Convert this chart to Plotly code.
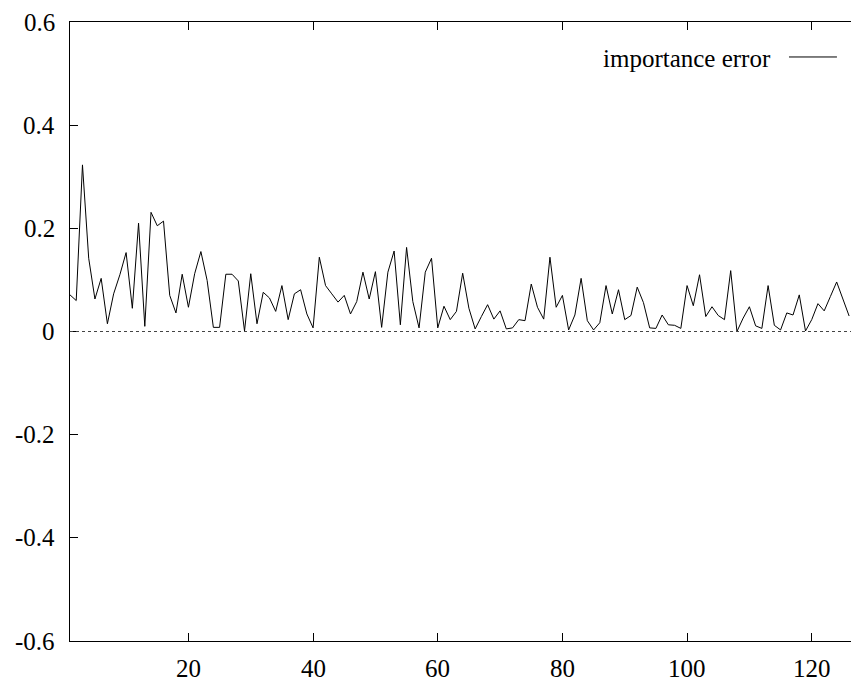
import plotly.graph_objects as go

x_index = list(range(1, 127))
importance_error = [
    0.071, 0.060, 0.323, 0.142, 0.063, 0.103, 0.015, 0.073, 0.110, 0.153,
    0.045, 0.210, 0.010, 0.231, 0.205, 0.214, 0.070, 0.036, 0.111, 0.047,
    0.112, 0.155, 0.099, 0.008, 0.008, 0.111, 0.111, 0.098, 0.001, 0.112,
    0.015, 0.076, 0.065, 0.039, 0.089, 0.023, 0.073, 0.081, 0.034, 0.007,
    0.144, 0.089, 0.073, 0.057, 0.070, 0.034, 0.058, 0.115, 0.063, 0.116,
    0.008, 0.115, 0.156, 0.013, 0.163, 0.058, 0.007, 0.115, 0.142, 0.007,
    0.049, 0.023, 0.039, 0.113, 0.045, 0.005, 0.029, 0.052, 0.024, 0.040,
    0.005, 0.007, 0.023, 0.021, 0.092, 0.047, 0.024, 0.144, 0.047, 0.070,
    0.003, 0.032, 0.103, 0.021, 0.003, 0.017, 0.089, 0.034, 0.081, 0.023,
    0.031, 0.086, 0.056, 0.007, 0.006, 0.032, 0.013, 0.012, 0.006, 0.089,
    0.050, 0.110, 0.029, 0.048, 0.031, 0.023, 0.118, 0.000, 0.026, 0.048,
    0.011, 0.006, 0.089, 0.012, 0.003, 0.036, 0.032, 0.071, 0.001, 0.023,
    0.054, 0.040, 0.068, 0.096, 0.063, 0.030,
]
series_name = "importance error"
x_tickvals = [20, 40, 60, 80, 100, 120]
x_ticktext = ["20", "40", "60", "80", "100", "120"]
y_tickvals = [-0.6, -0.4, -0.2, 0, 0.2, 0.4, 0.6]
y_ticktext = ["-0.6", "-0.4", "-0.2", "0", "0.2", "0.4", "0.6"]

FONT = "Liberation Serif, Times New Roman, Times, serif"
FS = 25
tfont = dict(family=FONT, size=FS, color="black")

fig = go.Figure()
fig.add_trace(go.Scatter(
    x=x_index, y=importance_error, mode="lines", name=series_name,
    line=dict(color="black", width=1), showlegend=False,
))

# dotted zero line
fig.add_shape(type="line", xref="paper", yref="y", x0=0, x1=1, y0=0, y1=0,
              line=dict(color="#444", width=1, dash="dot"))

# gnuplot-style key (text followed by line sample)
fig.add_annotation(xref="paper", yref="paper", x=0.8976, y=0.9418,
                   text=series_name, showarrow=False, xanchor="right",
                   yanchor="middle", xshift=2, font=tfont)
fig.add_shape(type="line", xref="paper", yref="paper", x0=0.9206, x1=0.982,
              y0=0.9435, y1=0.9435, line=dict(color="black", width=1))

# tick labels as serif text
for v, t in zip(x_tickvals, x_ticktext):
    fig.add_annotation(xref="x", yref="paper", x=v, y=0, text=t,
                       showarrow=False, xanchor="center", yanchor="top",
                       yshift=-12, font=tfont)
for v, t in zip(y_tickvals, y_ticktext):
    fig.add_annotation(xref="paper", yref="y", x=0, y=v, text=t,
                       showarrow=False, xanchor="right", yanchor="middle",
                       xshift=-13, font=tfont)

fig.update_layout(
    template="none",
    width=851, height=684,
    margin=dict(l=70, r=0, t=22, b=43),
    paper_bgcolor="white", plot_bgcolor="white",
    font=tfont,
    showlegend=False,
)
fig.update_xaxes(
    range=[1, 126.3], tickvals=x_tickvals, showticklabels=False,
    ticks="inside", ticklen=8,
    tickcolor="black", showline=True, linecolor="black", linewidth=1.3,
    mirror="ticks", showgrid=False, zeroline=False,
)
fig.update_yaxes(
    range=[-0.6, 0.6], tickvals=y_tickvals, showticklabels=False,
    ticks="inside", ticklen=8, tickcolor="black", showline=True,
    linecolor="black", linewidth=1.3, mirror=False, showgrid=False,
    zeroline=False,
)

fig.write_html("out.html")
